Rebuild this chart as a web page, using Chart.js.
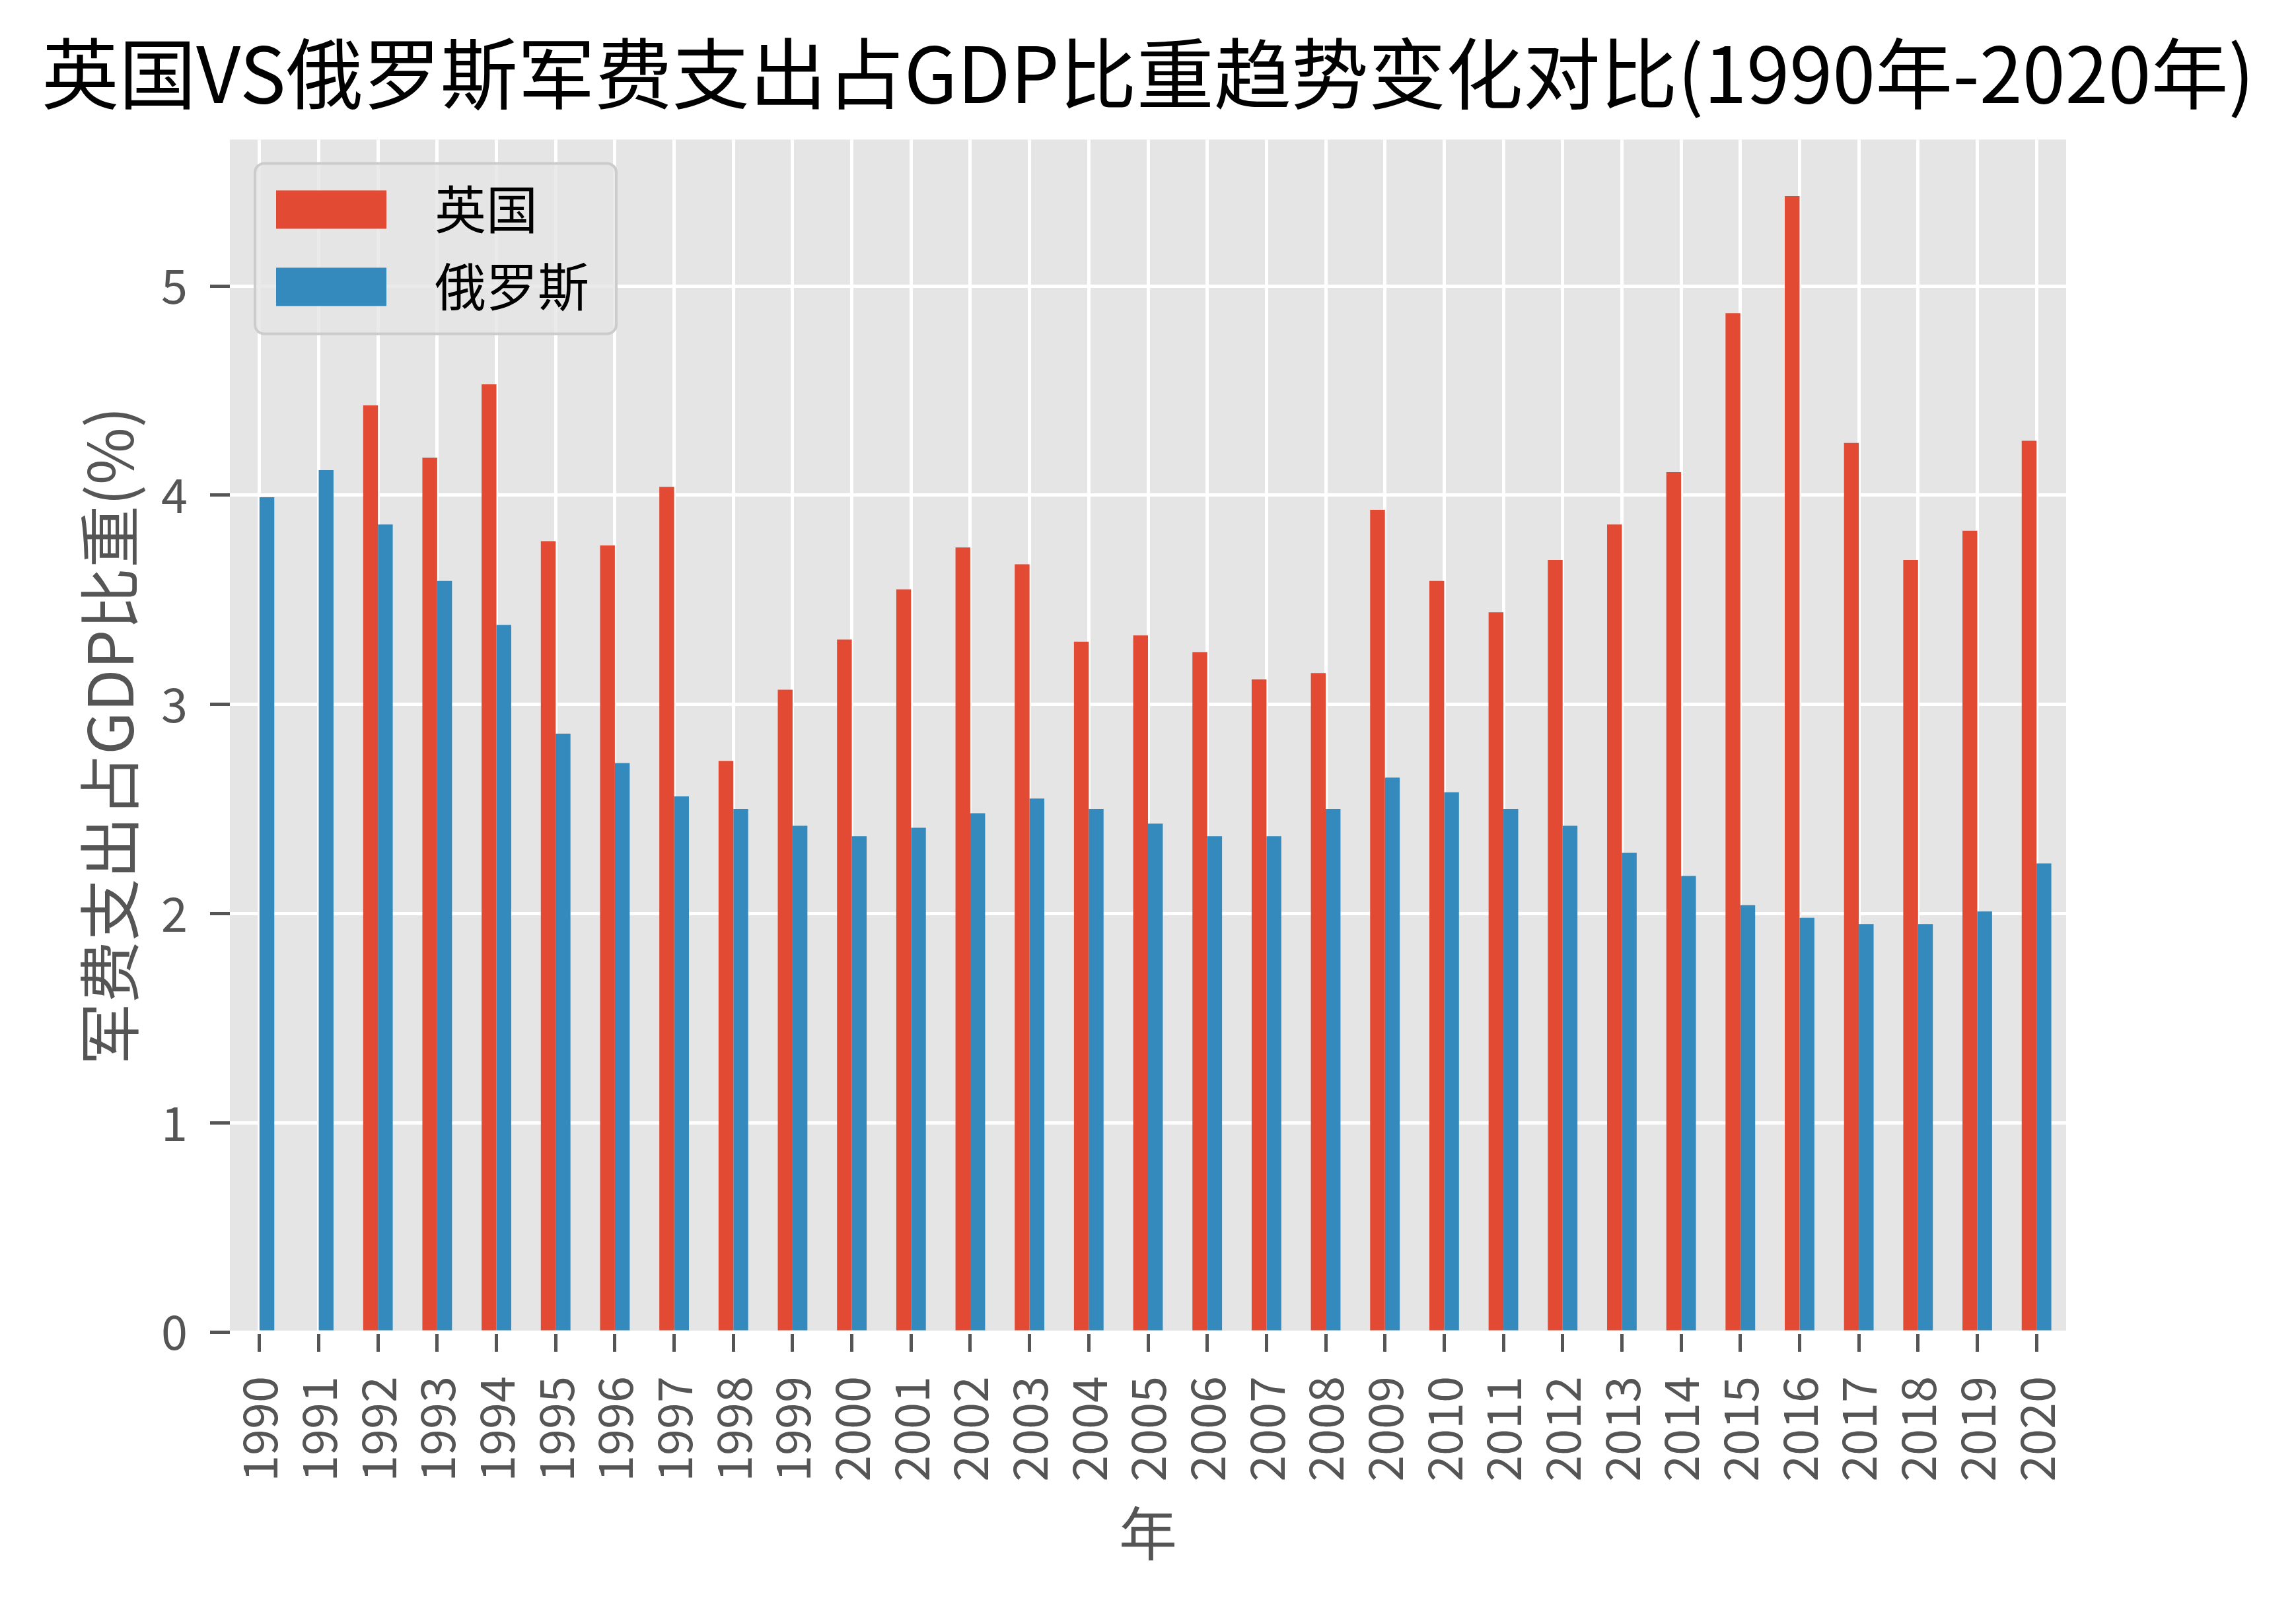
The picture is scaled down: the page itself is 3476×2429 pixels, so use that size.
<!DOCTYPE html>
<html>
<head>
<meta charset="utf-8">
<script src="https://cdn.jsdelivr.net/npm/chart.js@4/dist/chart.umd.min.js"></script>
<style>
  body { margin: 0; background: #fff; }
  canvas { display: block; }
</style>
</head>
<body>
<canvas id="milChart" width="3476" height="2429"></canvas>
<script>
const years = ['1990', '1991', '1992', '1993', '1994', '1995', '1996', '1997', '1998', '1999',
    '2000', '2001', '2002', '2003', '2004', '2005', '2006', '2007', '2008', '2009',
    '2010', '2011', '2012', '2013', '2014', '2015', '2016', '2017', '2018', '2019', '2020'];

const ukShare = [null, null, 4.43, 4.18, 4.53, 3.78, 3.76, 4.04, 2.73, 3.07,
    3.31, 3.55, 3.75, 3.67, 3.30, 3.33, 3.25, 3.12, 3.15, 3.93,
    3.59, 3.44, 3.69, 3.86, 4.11, 4.87, 5.43, 4.25, 3.69, 3.83, 4.26];

const ruShare = [3.99, 4.12, 3.86, 3.59, 3.38, 2.86, 2.72, 2.56, 2.50, 2.42,
    2.37, 2.41, 2.48, 2.55, 2.50, 2.43, 2.37, 2.37, 2.50, 2.65,
    2.58, 2.50, 2.42, 2.29, 2.18, 2.04, 1.98, 1.95, 1.95, 2.01, 2.24];

const yTicks = [0, 1, 2, 3, 4, 5];

const FONT = '"Noto Sans CJK SC", "Noto Sans", sans-serif';

// grey panel behind the bars
const panelBg = {
    id: 'panelBg',
    beforeDraw(chart) {
        const { ctx, chartArea: a } = chart;
        ctx.save();
        ctx.fillStyle = '#e5e5e5';
        ctx.fillRect(a.left, a.top, a.right - a.left, a.bottom - a.top);
        ctx.restore();
    }
};

// matplotlib-like legend box inside the plot, upper left
const boxLegend = {
    id: 'boxLegend',
    afterDraw(chart) {
        const { ctx, chartArea: a } = chart;
        const x = a.left + 38, y = a.top + 36, w = 547, h = 258;
        ctx.save();
        ctx.beginPath();
        ctx.roundRect(x, y, w, h, 14);
        ctx.fillStyle = 'rgba(229,229,229,0.8)';
        ctx.fill();
        ctx.lineWidth = 4;
        ctx.strokeStyle = '#cccccc';
        ctx.stroke();
        ctx.font = '78px ' + FONT;
        ctx.textBaseline = 'middle';
        chart.data.datasets.forEach((ds, i) => {
            const cy = y + 70 + i * 117;
            ctx.fillStyle = ds.backgroundColor;
            ctx.fillRect(x + 32, cy - 29, 167, 58);
            ctx.fillStyle = '#000';
            ctx.fillText(ds.label, x + 272, cy);
        });
        ctx.restore();
    }
};

new Chart(document.getElementById('milChart'), {
    type: 'bar',
    data: {
        labels: years,
        datasets: [
            { label: '英国', data: ukShare, backgroundColor: '#E24A33' },
            { label: '俄罗斯', data: ruShare, backgroundColor: '#348ABD' }
        ]
    },
    options: {
        responsive: false,
        animation: false,
        layout: { padding: 0 },
        datasets: {
            bar: { categoryPercentage: 0.5, barPercentage: 1.0 }
        },
        plugins: {
            legend: { display: false },
            tooltip: { enabled: false },
            title: {
                display: true,
                text: '英国VS俄罗斯军费支出占GDP比重趋势变化对比(1990年-2020年)',
                color: '#000',
                font: { family: FONT, size: 117, weight: 'normal' },
                padding: { top: 41, bottom: 30 }
            }
        },
        scales: {
            x: {
                grid: { color: '#ffffff', lineWidth: 5, offset: false, tickColor: '#555555', tickWidth: 5, tickLength: 30 },
                border: { display: false },
                ticks: { color: '#555555', font: { family: FONT, size: 72 }, minRotation: 90, maxRotation: 90, autoSkip: false, padding: 37 },
                title: { display: true, text: '年', color: '#555555', font: { family: FONT, size: 88 }, padding: { top: 0, bottom: 55 } },
                afterFit: s => { s.height = 412; }
            },
            y: {
                min: 0,
                max: 5.7,
                grid: { color: '#ffffff', lineWidth: 5, tickColor: '#555555', tickWidth: 5, tickLength: 30 },
                border: { display: false },
                ticks: { color: '#555555', font: { family: FONT, size: 72 }, stepSize: 1, padding: 34 },
                afterBuildTicks: s => { s.ticks = yTicks.map(v => ({ value: v })); },
                title: { display: true, text: '军费支出占GDP比重(%)', color: '#555555', font: { family: FONT, size: 94 }, padding: { top: 110, bottom: 0 } },
                afterFit: s => { s.width = 348; }
            },
            // empty right-hand margin so the title stays centred on the page
            yRight: {
                position: 'right',
                grid: { display: false },
                border: { display: false },
                ticks: { display: false },
                afterFit: s => { s.width = 348; }
            }
        }
    },
    plugins: [panelBg, boxLegend]
});
</script>
</body>
</html>
